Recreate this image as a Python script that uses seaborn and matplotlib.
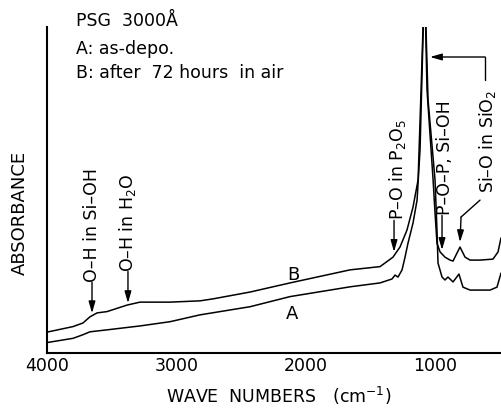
import matplotlib
matplotlib.use("Agg")
import matplotlib.pyplot as plt
import seaborn as sns
import pandas as pd

# ---- data ----
wn_B = [4000, 3799, 3722, 3668, 3613, 3536, 3381, 3281, 3049, 2817, 2717, 2430, 2121,
        1657, 1425, 1325, 1271, 1217, 1170, 1131, 1108, 1081, 1062, 1015, 1000, 985,
        961, 923, 884, 861, 807, 768, 729, 652, 552, 513, 490]
abs_B = [0.064, 0.081, 0.092, 0.111, 0.123, 0.127, 0.147, 0.156, 0.156, 0.160, 0.166,
         0.187, 0.215, 0.255, 0.265, 0.294, 0.325, 0.377, 0.448, 0.531, 0.807, 1.15,
         0.807, 0.531, 0.429, 0.337, 0.310, 0.294, 0.285, 0.282, 0.325, 0.294, 0.285,
         0.285, 0.288, 0.310, 0.353]

wn_A = [4000, 3799, 3729, 3668, 3536, 3281, 3049, 2817, 2430, 2121, 1657, 1425, 1333,
        1309, 1286, 1255, 1232, 1209, 1170, 1139, 1116, 1081, 1054, 1000, 985, 977,
        946, 923, 900, 861, 815, 784, 729, 575, 521, 490]
abs_A = [0.032, 0.045, 0.055, 0.065, 0.071, 0.083, 0.096, 0.117, 0.142, 0.173, 0.203,
         0.215, 0.227, 0.239, 0.233, 0.255, 0.294, 0.337, 0.399, 0.469, 0.623, 1.15,
         0.776, 0.531, 0.377, 0.276, 0.233, 0.224, 0.233, 0.218, 0.242, 0.202, 0.193,
         0.193, 0.202, 0.245]

xticks = [4000, 3000, 2000, 1000]
xtick_labels = ["4000", "3000", "2000", "1000"]

sns.set_style("white")
plt.rcParams["font.family"] = ["DejaVu Sans"]
plt.rcParams["mathtext.fontset"] = "dejavusans"
plt.rcParams["text.color"] = "black"
plt.rcParams["xtick.color"] = "black"
plt.rcParams["xtick.labelcolor"] = "black"

df = pd.concat([
    pd.DataFrame({"wn": wn_B, "absorb": abs_B, "sample": "B"}),
    pd.DataFrame({"wn": wn_A, "absorb": abs_A, "sample": "A"}),
])

fig = plt.figure(figsize=(5.01, 4.18), dpi=100)
ax = fig.add_axes([47 / 501, 1 - 353 / 418, 1 - 47 / 501, (353 - 27) / 418])

sns.lineplot(data=df, x="wn", y="absorb", units="sample", estimator=None,
             color="black", linewidth=1.1, ax=ax, legend=False)

ax.set_xlim(4000, 490)
ax.set_ylim(0, 1)
ax.set_xlabel("")
ax.set_ylabel("")
ax.set_yticks([])
ax.set_xticks(xticks)
ax.set_xticklabels(xtick_labels, fontsize=12.5)
ax.tick_params(axis="x", direction="in", length=8, width=1.2, pad=3, color="black",
               labelcolor="black")
for s in ["top", "right"]:
    ax.spines[s].set_visible(False)
for s in ["left", "bottom"]:
    ax.spines[s].set_color("black")
    ax.spines[s].set_linewidth(1.5)

HF = 12.5  # header font size
fig.text(76 / 501, 1 - 26 / 418, "PSG  3000Å", fontsize=HF, va="baseline")
fig.text(76 / 501, 1 - 54 / 418, "A: as-depo.", fontsize=HF, va="baseline")
fig.text(76 / 501, 1 - 78 / 418, "B: after  72 hours  in air", fontsize=HF,
         va="baseline")

# axis labels
fig.text(279 / 501, 1 - 403 / 418, "WAVE  NUMBERS   (cm$^{-1}$)", fontsize=12.5,
         ha="center", va="baseline")
fig.text(20 / 501, 1 - 213 / 418, "ABSORBANCE", fontsize=13, rotation=90,
         ha="center", va="center")

# curve labels
ax.text(2098, 0.239, "B", fontsize=13, ha="center", va="center")
ax.text(2106, 0.121, "A", fontsize=13, ha="center", va="center")

arrow_kw = dict(arrowstyle="-|>,head_length=0.7,head_width=0.2", color="black",
                lw=1.0, shrinkA=0, shrinkB=0)
AF = 12.5  # annotation font size

def vlabel(x_text, y_text, text, x_tip, y_tip):
    ax.text(x_text, y_text + 0.005, text, rotation=90, ha="center", va="bottom",
            fontsize=AF)
    ax.annotate("", xy=(x_tip, y_tip), xytext=(x_tip, y_text + 0.005),
                arrowprops=arrow_kw)

vlabel(3650, 0.212, "O–H in Si–OH", 3652, 0.122)
vlabel(3374, 0.245, "O–H in H$_2$O", 3374, 0.153)
vlabel(1294, 0.402, "P–O in P$_2$O$_5$", 1317, 0.310)
vlabel(923, 0.417, "P–O–P, Si–OH", 946, 0.316)

# Si-O in SiO2 label with leader and bracket
ax.text(598, 0.491, "Si–O in SiO$_2$", rotation=90, ha="center", va="bottom",
        fontsize=AF)
ax.plot([652, 799], [0.469, 0.417], color="black", lw=1.0)
ax.annotate("", xy=(807, 0.340), xytext=(799, 0.417), arrowprops=arrow_kw)
ax.plot([613, 613], [0.837, 0.908], color="black", lw=1.0, clip_on=False)
ax.annotate("", xy=(1039, 0.908), xytext=(613, 0.908), arrowprops=arrow_kw,
            annotation_clip=False)

fig.savefig("out.png", dpi=100)
